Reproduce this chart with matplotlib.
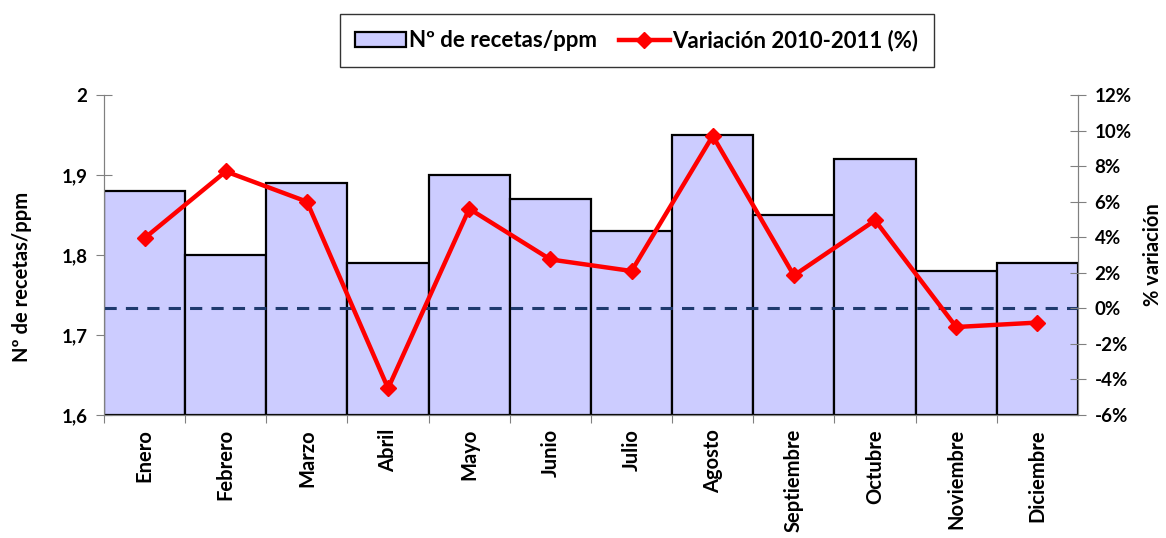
import numpy as np
import matplotlib.pyplot as plt
from matplotlib.ticker import FuncFormatter, MultipleLocator

MONTHS = ["Enero", "Febrero", "Marzo", "Abril", "Mayo", "Junio", "Julio",
          "Agosto", "Septiembre", "Octubre", "Noviembre", "Diciembre"]
RECETAS = [1.88, 1.80, 1.89, 1.79, 1.90, 1.87, 1.83, 1.95, 1.85, 1.92, 1.78, 1.79]
VARIACION = [3.95, 7.7, 6.0, -4.5, 5.6, 2.75, 2.1, 9.7, 1.85, 4.95, -1.05, -0.8]

plt.rcParams["font.family"] = ["Lato", "DejaVu Sans"]
plt.rcParams["font.weight"] = "bold"
W = "bold"


def main():
    fig = plt.figure(figsize=(11.66, 5.38), dpi=100)
    ax = fig.add_axes([0.0892, 0.2286, 0.8353, 0.5948])
    ax2 = ax.twinx()

    x = np.arange(len(MONTHS))
    bars = ax.bar(x, np.array(RECETAS) - 1.6, bottom=1.6, width=1.0,
                  color="#CCCCFF", edgecolor="black", linewidth=1.6,
                  label="Nº de recetas/ppm", zorder=2)
    ax.set_xlim(-0.5, len(MONTHS) - 0.5)
    ax.set_ylim(1.6, 2.0)
    ax.yaxis.set_major_locator(MultipleLocator(0.1))
    ax.yaxis.set_major_formatter(FuncFormatter(
        lambda v, p: ("%g" % round(v, 2)).replace(".", ",")))

    ax.set_xticks(x - 0.5, minor=False)
    ax.set_xticklabels([])
    ax.set_xticks(x, minor=True)
    ax.set_xticklabels(MONTHS, minor=True, rotation=90, fontsize=14.5,
                       fontweight=W)
    ax.tick_params(axis="x", which="major", length=6, color="#808080")
    ax.tick_params(axis="x", which="minor", length=0, pad=10)
    ax.tick_params(axis="y", direction="inout", length=12, color="#808080",
                   labelsize=13.5, pad=6)

    ax2.set_ylim(-6, 12)
    ax2.yaxis.set_major_locator(MultipleLocator(2))
    ax2.yaxis.set_major_formatter(FuncFormatter(lambda v, p: "%d%%" % v))
    ax2.tick_params(axis="y", direction="inout", length=12, color="#808080",
                    labelsize=13.5, pad=6)
    ax2.axhline(0, color="#1F3A6E", linewidth=2.2, linestyle=(0, (4, 3)),
                zorder=1)
    line, = ax2.plot(x, VARIACION, color="#FF0000", linewidth=3.2,
                     marker="D", markersize=8, label="Variación 2010-2011 (%)",
                     zorder=3)

    for a in (ax, ax2):
        a.spines["top"].set_visible(False)
        a.spines["left"].set_color("#808080")
        a.spines["right"].set_color("#808080")
        a.spines["bottom"].set_color("#808080")
    ax.set_ylabel("Nº de recetas/ppm", fontsize=14.5, fontweight=W)
    ax.yaxis.set_label_coords(-0.074, 0.43)
    ax2.set_ylabel("% variación", fontsize=14.5, fontweight=W,
                   labelpad=8)

    leg = fig.legend(handles=[bars, line], loc="center",
                     bbox_to_anchor=(0.546, 0.9247), ncol=2, frameon=True,
                     fancybox=False, edgecolor="black",
                     borderpad=0.7, handlelength=2.3, handletextpad=0.1,
                     columnspacing=1.0, prop={"weight": W, "size": 16})
    leg.get_frame().set_linewidth(1.0)

    fig.savefig("out.png", dpi=100)


if __name__ == "__main__":
    main()
